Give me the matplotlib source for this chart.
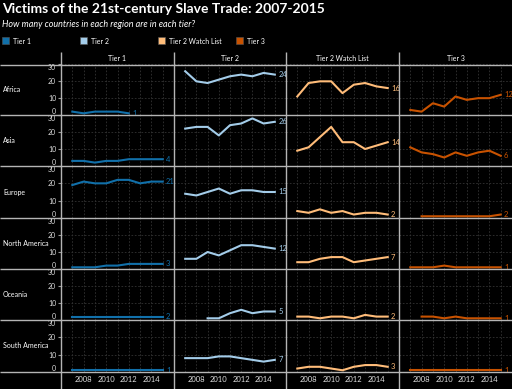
import numpy as np
import matplotlib
matplotlib.use('Agg')
import matplotlib.pyplot as plt
from matplotlib.patches import Rectangle

plt.rcParams['font.family'] = ['Lato', 'DejaVu Sans']

nan = np.nan

years = [2007, 2008, 2009, 2010, 2011, 2012, 2013, 2014, 2015]
regions = ['Africa', 'Asia', 'Europe', 'North America', 'Oceania', 'South America']
tiers = ['Tier 1', 'Tier 2', 'Tier 2 Watch List', 'Tier 3']
colors = ['#1170aa', '#a3cce9', '#ffbc79', '#c85200']

# number of countries per region (rows) per year
tier1 = [
	[2, 1, 2, 2, 2, 1, nan, nan, nan],
	[3, 3, 2, 3, 3, 4, 4, 4, 4],
	[19, 21, 20, 20, 22, 22, 20, 21, 21],
	[1, 1, 1, 2, 2, 3, 3, 3, 3],
	[2, 2, 2, 2, 2, 2, 2, 2, 2],
	[1, 1, 1, 1, 1, 1, 1, 1, 1],
]
tier2 = [
	[26, 20, 19, 21, 23, 24, 23, 25, 24],
	[22, 23, 23, 18, 24, 25, 28, 25, 26],
	[14, 13, 15, 17, 14, 16, 16, 15, 15],
	[6, 6, 10, 8, 11, 14, 14, 13, 12],
	[nan, nan, 1, 1, 4, 6, 4, 5, 5],
	[8, 8, 8, 9, 9, 8, 7, 6, 7],
]
watch = [
	[11, 19, 20, 20, 13, 18, 19, 17, 16],
	[9, 11, 17, 23, 14, 14, 10, 12, 14],
	[4, 3, 5, 3, 4, 2, 3, 3, 2],
	[4, 4, 6, 7, 7, 4, 5, 6, 7],
	[2, 2, 1, 2, 2, 1, 3, 2, 2],
	[2, 3, 3, 2, 1, 3, 4, 4, 3],
]
tier3 = [
	[3, 2, 7, 5, 11, 9, 10, 10, 12],
	[11, 8, 7, 5, 8, 6, 8, 9, 6],
	[nan, 1, 1, 1, 1, 1, 1, 1, 2],
	[1, 1, 1, 2, 1, 1, 1, 1, 1],
	[nan, 2, 2, 1, 2, 1, 1, 1, 1],
	[1, 1, 1, 1, 1, 1, 1, 1, 1],
]
series = [tier1, tier2, watch, tier3]

W, H = 512, 389
fig = plt.figure(figsize=(W/100, H/100), dpi=100, facecolor='black')

col_x = [61, 174, 286, 399, 512]
row_y = [64.5, 115, 166, 218, 269, 320, 372]

def frac(x0, y0, x1, y1):
	return [x0/W, 1-y1/H, (x1-x0)/W, (y1-y0)/H]

for r in range(len(regions)):
	for c in range(len(tiers)):
		ax = fig.add_axes(frac(col_x[c], row_y[r], col_x[c+1], row_y[r+1]))
		ax.set_facecolor('black')
		vals = np.array(series[c][r], dtype=float)
		ax.plot(years, vals, color=colors[c], lw=1.5)
		last = np.where(~np.isnan(vals))[0][-1]
		ax.text(years[last]+0.3, vals[last], '%d' % vals[last], color=colors[c],
			fontsize=5.5, va='center', ha='left', clip_on=False)
		ax.set_xlim(2006, 2016)
		ax.set_ylim(0, 30)
		ax.set_xticks(years)
		ax.set_yticks([0, 10, 20, 30])
		ax.grid(color='#333333', ls=(0, (2, 2)), lw=0.6)
		for s in ax.spines.values():
			s.set_visible(False)
		ax.tick_params(axis='x', length=0, labelsize=5.5, labelcolor='#dddddd', pad=3)
		if r == len(regions)-1:
			ax.set_xticklabels([str(y) if y % 2 == 0 else '' for y in years])
		else:
			ax.set_xticklabels([])
		if c == 0:
			ax.tick_params(axis='y', length=2.5, color='#999999', labelsize=5,
				labelcolor='#dddddd', pad=1)
			labs = ax.get_yticklabels()
			labs[0].set_va('bottom')
			labs[-1].set_va('top')
		else:
			ax.tick_params(axis='y', length=0, labelleft=False)

# frame, headers, legend and titles
ov = fig.add_axes([0, 0, 1, 1], zorder=10)
ov.set_xlim(0, W)
ov.set_ylim(H, 0)
ov.axis('off')
ov.patch.set_alpha(0)

ov.hlines(row_y, 0, W, color='#b5b5b5', lw=1)
ov.vlines(col_x[:4], 52, H, color='#b5b5b5', lw=1)

ov.text(2, 9, 'Victims of the 21st-century Slave Trade: 2007-2015', color='white',
	fontsize=10, fontweight='bold', va='center', ha='left')
ov.text(2, 24, 'How many countries in each region are in each tier?', color='white',
	fontsize=6.5, style='italic', va='center', ha='left')

for i, t in enumerate(tiers):
	x0 = 2 + 78*i
	ov.add_patch(Rectangle((x0, 37.3), 7, 7, facecolor=colors[i], edgecolor='#555555', lw=0.4))
	ov.text(x0+11, 41, t, color='white', fontsize=5, va='center', ha='left')
	ov.text((col_x[i]+col_x[i+1])/2, 58.5, t, color='white', fontsize=5, va='center', ha='center')

for r, reg in enumerate(regions):
	ov.text(3, (row_y[r]+row_y[r+1])/2, reg, color='white', fontsize=5, va='center', ha='left')

fig.savefig('out.png', dpi=100, facecolor='black')
